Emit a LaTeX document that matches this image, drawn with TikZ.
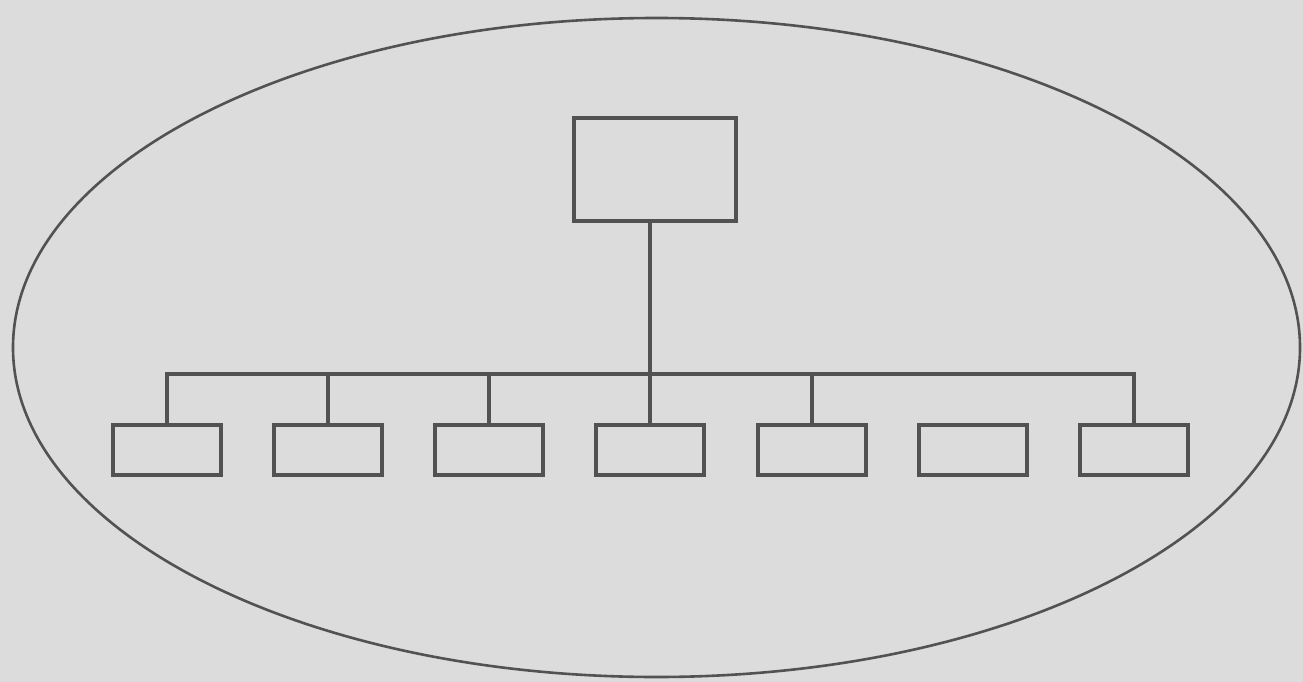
\documentclass[tikz,border=0pt]{standalone}
\usetikzlibrary{shapes.geometric}
\begin{document}
\begin{tikzpicture}[x=1pt,y=-1pt,
  line/.style={draw=black!68,line width=4pt},
  leaf/.style={line,minimum width=108pt,minimum height=50pt,inner sep=0pt},
  root/.style={line,minimum width=162pt,minimum height=102pt,inner sep=0pt}]
\useasboundingbox[fill={rgb,255:red,220;green,220;blue,220}] (0,0) rectangle (1303,682);
\node[draw=black!68,line width=2.6pt,ellipse,minimum width=1287pt,minimum height=659pt,inner sep=0pt] (outer) at (656.5,347.5) {};
\node[root] (top) at (654.5,169.5) {};
\foreach \i in {0,...,6}{
  \node[leaf] (b\i) at ({166.5+161.3*\i},450) {};
}
\coordinate (bus) at (650,374);
\draw[line] (top.south -| bus) -- (bus);
\draw[line] (b0.north) -- (b0.north |- bus) -- (b6.north |- bus) -- (b6.north);
\foreach \i in {1,2,3,4}{
  \draw[line] (b\i.north) -- (b\i.north |- bus);
}
\end{tikzpicture}
\end{document}
